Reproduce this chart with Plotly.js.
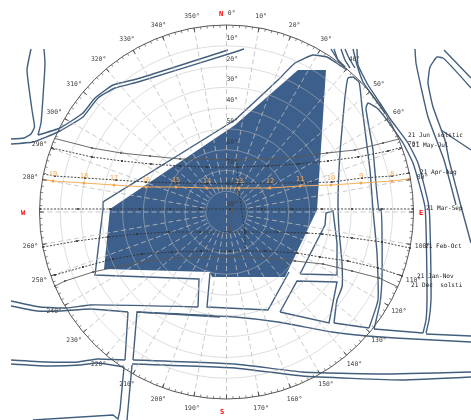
<!DOCTYPE html>
<html><head><meta charset="utf-8">
<script src="https://cdn.plot.ly/plotly-3.0.1.min.js"></script>
<style>html,body{margin:0;padding:0;background:#fff}#chart{width:471px;height:420px;filter:blur(0.4px)}</style>
</head><body><div id="chart"></div>
<script>
// ---- site plan, in plan units (x right, y down) ----
const buildingX=[298,326,317,285,212,210,104,110,235,298];
const buildingY=[70,70,210,277,277,272,269,209,125,70];

const curvedLines=[
 [[31,49],[27,70],[32,110],[34.5,127],[31,134],[24,138],[11,139]],
 [[44,49],[45,63],[43,97],[41,123],[38,135]],
 [[38,135],[60,128],[83,113],[95,98],[113,85],[137,79],[228,50]],
 [[11,144],[33,142],[58,132],[83,117],[98,98],[115,88],[138,82],[235,52],[244,49]],
 [[235,120],[278,80],[295,63],[313,55],[327,57],[335,62],[347,70]],
 [[198,307],[90,305],[67,308],[40,307],[11,301]],
 [[11,306],[37,311],[60,311],[90,309],[128,312]],
 [[125,360],[97,359],[78,362],[47,362],[11,360]],
 [[11,364],[47,366],[80,365],[97,363],[124,367]],
 [[133,360],[235,364],[302,372],[382,374],[471,372]],
 [[132,364],[235,368],[302,376],[402,380],[471,377]],
 [[137,312],[235,317],[278,322],[332,332],[367,336],[395,338],[471,342]],
 [[334,323],[337,300],[342,287],[342,263],[339,230],[338,200],[340,153],[345,97],[348,78],[353,77],[359,82],[362,107],[370,170],[373,210],[377,253],[378,300],[369,328]],
 [[374,329],[380,303],[382,277],[381,210],[379,210],[373,150],[366,108],[368,103],[377,108],[387,120],[403,143],[413,163],[425,207],[427,300],[426,320],[423,333]],
 [[331,49],[338,60],[345,67]],
 [[334,49],[338,60],[345,67]],
 [[341,49],[345,60],[350,68]],
 [[345,49],[349,58],[355,68]],
 [[353,49],[357,65],[363,82],[372,95],[385,113]],
 [[357,49],[358,65],[368,85],[380,103],[391,120],[408,143],[418,163],[429,207],[431,300],[429,320],[426,333]],
 [[415,49],[416,63],[428,117],[444,160],[456,205]],
 [[471,88],[443,58],[437,57],[430,67],[428,83],[433,107],[445,140],[449,160],[462,210],[471,243]],
];
const straightLines=[
 [[235,120],[103,202],[103,209],[95,275],[199,279],[198,307]],
 [[128,312],[125,360]],
 [[124,367],[120,410],[118,419],[113,415],[33,420]],
 [[132,365],[127,420]],
 [[220,317],[137,312],[133,360]],
 [[210,273],[207,307],[268,310],[289,272]],
 [[280,312],[297,281],[337,282],[329,323],[280,312]],
 [[300,274],[325,225],[326,213],[333,211],[337,243],[337,275],[300,274]],
 [[334,323],[369,328]],
 [[374,329],[423,333]],
 [[444,50],[471,78]],
 [[441,130],[471,150]],
 [[426,334],[471,336]]
];

// ---- sun paths, same plan units; dots are the hour marks ----
const junX=[53,92,121,150,180,207,238,268,298,327,355,383,407];
const junY=[138,148,153,156,159,159,160,159,157,153,150,143,137];
const mayX=[52,92,122,151,180,207,238,268,298,328,358,388,403];
const mayY=[148,157,161,164,166,167,167,166,164,161,157,151,147];
const aprX=[43,55,85,116,146,177,207,239,270,302,332,362,392,409];
const aprY=[174,176,178,180,182,183,183.5,183.5,183,183,182,178,176,173];
const equX=[40,78,110,140,170,200,230,262,292,322,352,382,413];
const equY=[209,209,209,209,209,209,209,209,209,209,209,209,209];
const febX=[43,77,108,137,168,200,230,245,277,307,322,352,382,410];
const febY=[247,241,237,234,232,232,232,232,232,233,234,238,242,248];
const janX=[55,83,113,142,172,201,230,265,297,320,348,378,402];
const janY=[275,267,259,254,252,251,251,251,253,257,261,268,276];
const decX=[55,65,93,121,148,178,207,235,267,295,323,352,379,398];
const decY=[286,281,272,266,261,258,257,257,258,261,264,271,278,287];
const testX=[42,53,84,114,146,176,207,239,270,300,331,361,392,409];
const testY=[179,181,183,185,187,187,188,188,188,186,185,183,181,179];
const hourLabels=['','19','18','17','16','15','14','13','12','11','10','9','8',''];
const noonSolidX=[238,233,230];
const noonSolidY=[187,207,232];
const noonDotX=[237,238,241,245,245];
const noonDotY=[163,187,205,232,250];

// ---- labels ----
const seasonText=['21 Jun  solstic','21 May-Jul','21 Apr-Aug','21 Mar-Sep','21 Feb-Oct','21 Jan-Nov','21 Dec  solsti'];
const seasonX=[408,412,420,426,425,417,411];
const seasonY=[135,145,172,208,246,276,285];
const compassText=['N','E','S','W'];
const compassX=[221,421,222,23];
const compassY=[14,213,412,213];
const altitudes=[10,20,30,40,50,60,70,80,90];
const azimuths=[];
for(let a=0;a<360;a+=10) azimuths.push(a);
const labelledAz=azimuths.filter(a=>a!==90&&a!==180&&a!==270);

const CX=226.5, CY=212, R=187, LABEL_GAP=12, W=471, H=420;
const toTheta=(xs,ys)=>xs.map((x,i)=>Math.atan2(x-CX,CY-ys[i])*180/Math.PI);
const toAlt=(xs,ys)=>xs.map((x,i)=>90-Math.hypot(x-CX,ys[i]-CY)/R*90);
const polarDomain=r=>({x:[(CX-r)/W,(CX+r)/W],y:[(H-CY-r)/H,(H-CY+r)/H]});

const LINE='#435f7e', INK='#3c3c3c', MONO='"DejaVu Sans Mono", monospace';
const traces=[];
traces.push({type:'scatter',x:buildingX,y:buildingY,mode:'lines',fill:'toself',fillcolor:'#3d5f8b',line:{width:0},hoverinfo:'skip'});
curvedLines.forEach(l=>traces.push({type:'scatter',x:l.map(p=>p[0]),y:l.map(p=>p[1]),mode:'lines',
  line:{color:LINE,width:1.4,shape:'spline',smoothing:0.4},hoverinfo:'skip'}));
straightLines.forEach(l=>traces.push({type:'scatter',x:l.map(p=>p[0]),y:l.map(p=>p[1]),mode:'lines',
  line:{color:LINE,width:1.4},hoverinfo:'skip'}));
traces.push({type:'scatter',x:seasonX,y:seasonY,text:seasonText,mode:'text',textposition:'middle right',
  textfont:{family:MONO,size:6.1,color:'#222222'},hoverinfo:'skip'});
traces.push({type:'scatter',x:compassX,y:compassY,text:compassText,mode:'text',textposition:'middle center',
  textfont:{family:MONO,size:7,color:'#ff0000',weight:700},hoverinfo:'skip'});

const spokeT=[],spokeR=[];
azimuths.forEach(a=>{spokeT.push(a,a,null);spokeR.push(0,(a%180===0)?90:80,null);});
traces.push({type:'scatterpolar',theta:spokeT,r:spokeR,mode:'lines',cliponaxis:false,
  line:{color:'rgba(190,190,190,0.8)',width:1,dash:'5px,3px'},hoverinfo:'skip'});
const minT=[],minR=[];
for(let a=0;a<360;a+=2){minT.push(a,a,null);minR.push(0,1.3,null);}
traces.push({type:'scatterpolar',theta:minT,r:minR,mode:'lines',line:{color:'#555555',width:0.7},hoverinfo:'skip'});

function path(xs,ys,dash,color,w){
  traces.push({type:'scatterpolar',theta:toTheta(xs,ys),r:toAlt(xs,ys),mode:'lines+markers',cliponaxis:false,
    line:{color:color,width:w,dash:dash},marker:{color:color,size:2.2},hoverinfo:'skip'});
}
path(junX,junY,'solid','#595959',0.9);
path(mayX,mayY,'2px,1.5px','#333333',0.9);
path(aprX,aprY,'2px,1.5px','#333333',0.9);
path(equX,equY,'2px,1.5px','#333333',0.9);
path(febX,febY,'2px,1.5px','#333333',0.9);
path(janX,janY,'2px,1.5px','#333333',0.9);
path(decX,decY,'solid','#595959',0.9);
traces.push({type:'scatterpolar',theta:toTheta(noonSolidX,noonSolidY),r:toAlt(noonSolidX,noonSolidY),mode:'lines',
  line:{color:'#595959',width:0.9},hoverinfo:'skip'});
traces.push({type:'scatterpolar',theta:toTheta(noonDotX,noonDotY),r:toAlt(noonDotX,noonDotY),mode:'lines',
  line:{color:'#333333',width:0.9,dash:'2px,1.5px'},hoverinfo:'skip'});
traces.push({type:'scatterpolar',theta:toTheta(testX,testY),r:toAlt(testX,testY),text:hourLabels,
  mode:'lines+markers+text',textposition:'top center',cliponaxis:false,
  line:{color:'#f7ae5c',width:1.2},marker:{color:'#f7a54a',size:3},
  textfont:{family:MONO,size:7,color:'#f5a74f'},hoverinfo:'skip'});
traces.push({type:'scatterpolar',theta:altitudes.map(()=>0),r:altitudes.map(a=>a-2.1),text:altitudes.map(a=>a+'°'),
  mode:'text',textposition:'top right',cliponaxis:false,textfont:{family:MONO,size:6.4,color:INK},hoverinfo:'skip'});
// azimuth labels sit on the rim of a slightly larger, invisible polar subplot
traces.push({type:'scatterpolar',subplot:'polar2',theta:labelledAz.map(a=>a===0?1.5:a),r:labelledAz.map(()=>1),text:labelledAz.map(a=>a+'°'),
  mode:'text',textposition:'middle center',cliponaxis:false,textfont:{family:MONO,size:6.4,color:INK},hoverinfo:'skip'});

const layout={
  width:W,height:H,showlegend:false,paper_bgcolor:'#ffffff',plot_bgcolor:'rgba(0,0,0,0)',
  margin:{l:0,r:0,t:0,b:0},
  xaxis:{range:[0,W],visible:false,domain:[0,1],fixedrange:true},
  yaxis:{range:[H,0],visible:false,domain:[0,1],fixedrange:true},
  polar:{
    domain:polarDomain(R),
    bgcolor:'rgba(0,0,0,0)',
    radialaxis:{range:[90,0],tickvals:altitudes,showticklabels:false,ticks:'',showline:false,
      showgrid:true,gridcolor:'rgba(190,190,190,0.5)',gridwidth:1},
    angularaxis:{direction:'clockwise',rotation:90,thetaunit:'degrees',tickmode:'array',tickvals:azimuths,
      showticklabels:false,showgrid:false,showline:true,linecolor:'#555555',linewidth:1,ticks:'inside',ticklen:4,tickwidth:0.8,tickcolor:'#444444'}
  },
  polar2:{
    domain:polarDomain(R+LABEL_GAP),
    bgcolor:'rgba(0,0,0,0)',
    radialaxis:{range:[0,1],visible:false},
    angularaxis:{direction:'clockwise',rotation:90,thetaunit:'degrees',visible:false}
  }
};
Plotly.newPlot('chart',traces,layout,{staticPlot:true,displayModeBar:false});
</script></body></html>
